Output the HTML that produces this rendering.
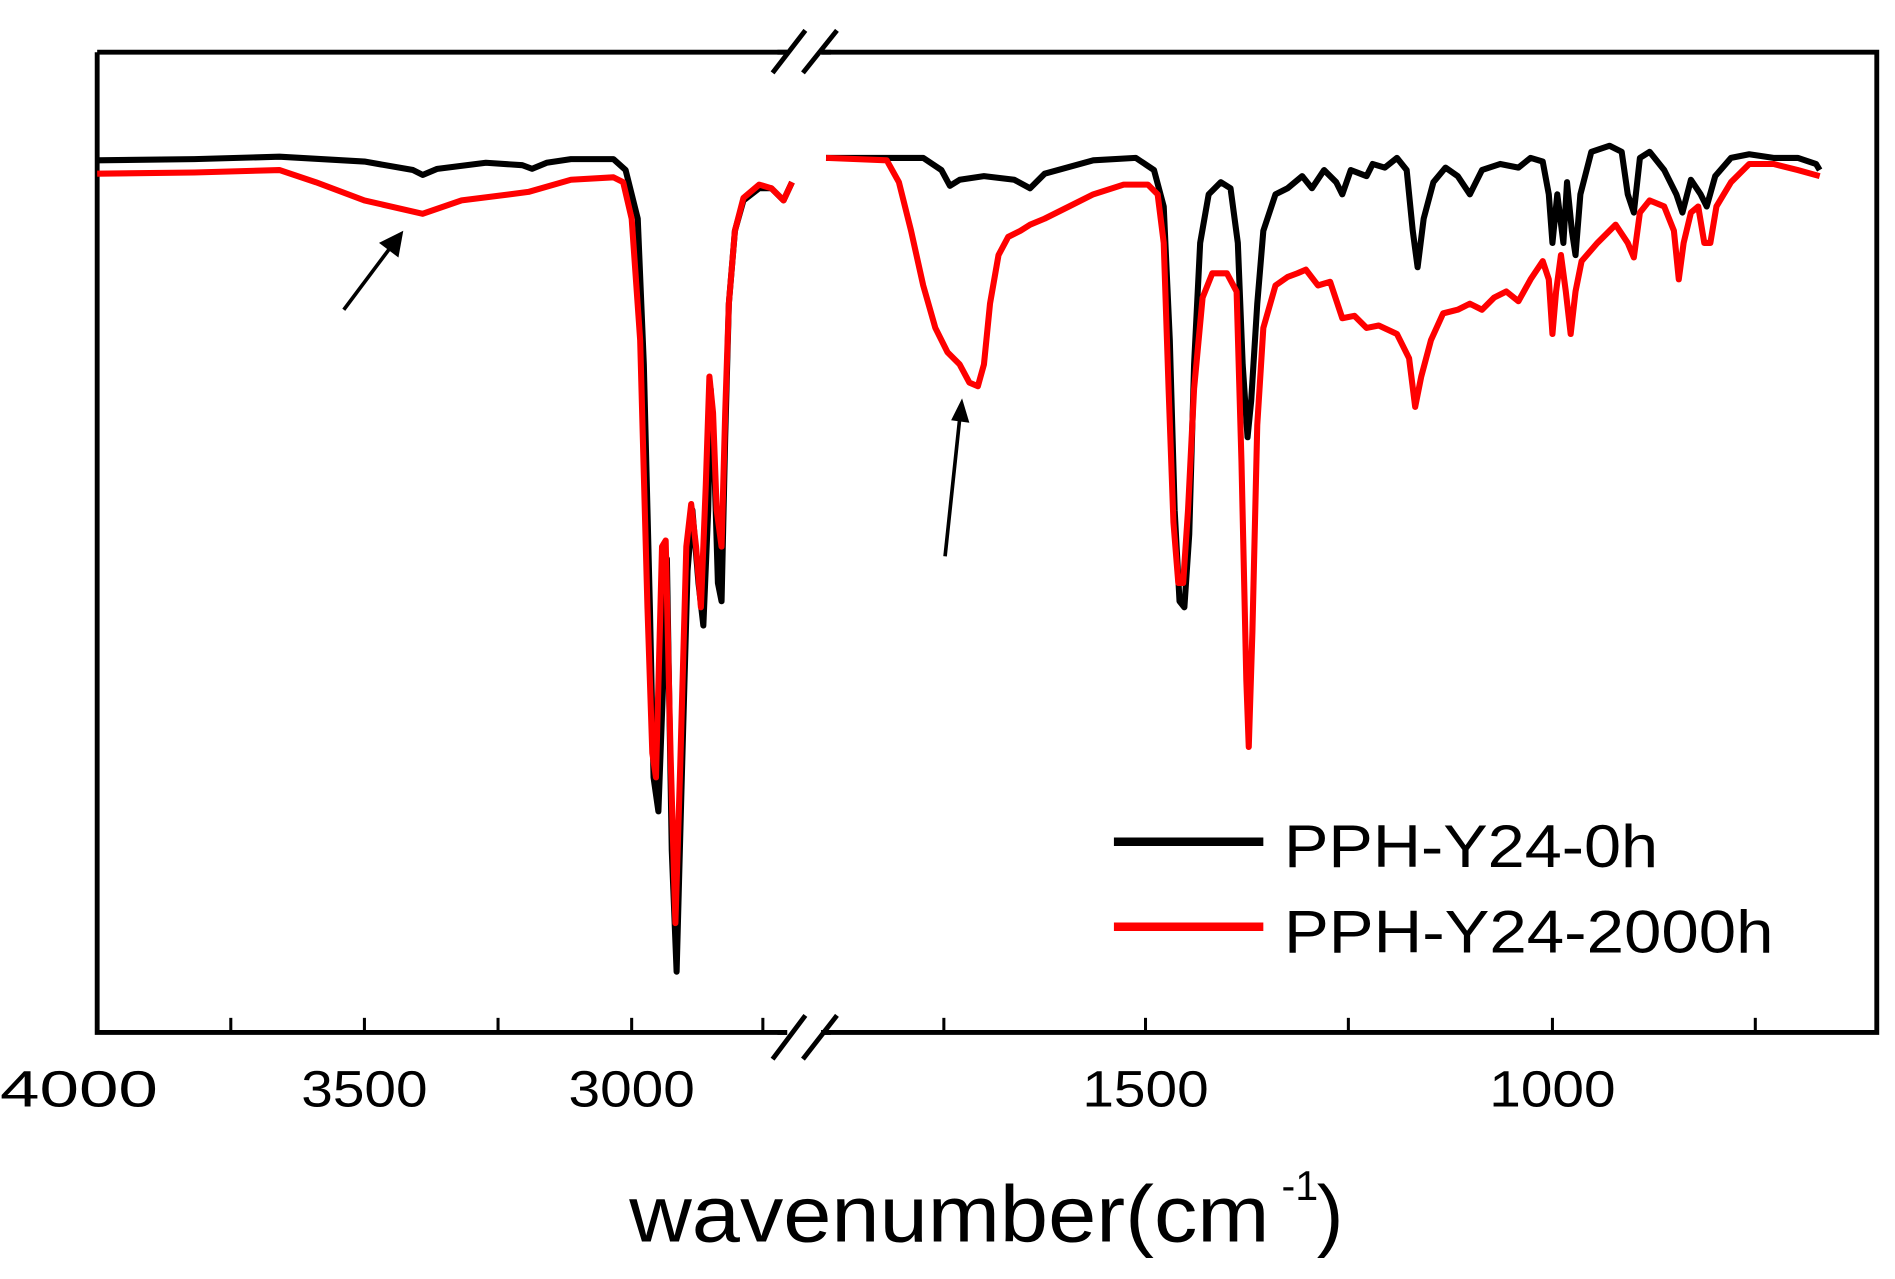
<!DOCTYPE html>
<html><head><meta charset="utf-8"><style>html,body{margin:0;padding:0;background:#fff}svg{display:block}</style></head>
<body>
<svg width="1895" height="1279" viewBox="0 0 1560 1053" preserveAspectRatio="none" xmlns="http://www.w3.org/2000/svg">
<rect width="1560" height="1053" fill="#fff"/>
<g stroke="#000" stroke-width="4" fill="none">
<polyline points="80,43 1545,43 1545,850 80,850 80,43"/>
</g>
<g stroke="#000" stroke-width="2.5">
<line x1="190" y1="850" x2="190" y2="838"/><line x1="300" y1="850" x2="300" y2="838"/><line x1="410" y1="850" x2="410" y2="838"/><line x1="520" y1="850" x2="520" y2="838"/><line x1="628" y1="850" x2="628" y2="838"/>
<line x1="1110" y1="850" x2="1110" y2="838"/><line x1="1278" y1="850" x2="1278" y2="838"/><line x1="1445" y1="850" x2="1445" y2="838"/><line x1="943" y1="850" x2="943" y2="838"/><line x1="777" y1="850" x2="777" y2="838"/>
</g>
<g stroke="#fff" stroke-width="14">
<line x1="648" y1="43" x2="676" y2="43"/><line x1="648" y1="850" x2="676" y2="850"/>
</g>
<g stroke="#000" stroke-width="4">
<line x1="640" y1="43" x2="648" y2="43"/><line x1="676" y1="43" x2="684" y2="43"/>
<line x1="640" y1="850" x2="648" y2="850"/><line x1="676" y1="850" x2="684" y2="850"/>
<line x1="636" y1="60" x2="663" y2="25"/><line x1="661" y1="60" x2="689" y2="25"/>
<line x1="636" y1="872" x2="663" y2="836"/><line x1="661" y1="872" x2="689" y2="836"/>
</g>
<g fill="none" stroke-width="5" stroke-linejoin="round">
<polyline stroke="#000" points="80,132 160,131 230,129 300,133 340,140 348,144 360,139 400,134 430,136 438,139 450,134 470,131 505,131 515,140 525,180 530,300 535,500 538,640 542,668 546,560 549,460 553,700 557,800 561,650 566,470 570,420 575,480 579,515 583,420 585,320 588,380 591,480 594,495 597,360 600,250 605,190 612,165 625,155 635,155 645,165 652,150"/>
<polyline stroke="#f00" points="80,143 160,142 230,140 260,150 300,165 348,176 380,165 435,158 470,148 505,146 513,150 520,180 527,280 533,500 537,620 540,640 545,450 548,445 552,620 556,760 560,630 565,450 569,415 573,450 577,500 581,400 584,310 587,340 590,420 594,450 597,340 600,250 605,190 612,163 625,152 635,155 645,165 652,150"/>
<polyline stroke="#000" points="680,130 760,130 775,140 782,153 790,148 810,145 835,148 848,155 860,143 900,132 935,130 950,140 958,170 963,280 967,420 971,495 975,500 979,440 983,300 988,200 995,160 1005,150 1013,155 1019,200 1023,300 1027,360 1030,330 1035,250 1040,190 1050,160 1060,155 1072,145 1080,155 1090,140 1100,150 1105,160 1112,140 1125,145 1130,135 1140,138 1150,130 1158,140 1163,190 1167,220 1172,180 1180,150 1190,138 1200,145 1210,160 1220,140 1235,135 1250,138 1260,130 1270,133 1275,160 1278,200 1282,160 1287,200 1290,150 1294,190 1297,210 1301,160 1310,125 1325,120 1335,125 1340,160 1345,175 1350,130 1358,125 1370,140 1380,160 1385,175 1392,148 1400,160 1405,170 1412,145 1425,130 1440,127 1460,130 1480,130 1495,135 1498,140"/>
<polyline stroke="#f00" points="680,130 730,132 740,150 750,190 760,235 770,270 780,290 790,300 798,315 805,318 810,300 815,250 822,210 830,195 840,190 848,185 860,180 880,170 900,160 925,152 945,152 953,160 958,200 962,320 966,430 970,480 974,480 978,420 983,320 990,245 998,225 1010,225 1018,240 1022,380 1026,560 1028,615 1031,520 1035,350 1040,270 1050,235 1060,228 1068,225 1075,222 1085,235 1095,232 1105,262 1115,260 1125,270 1135,268 1150,275 1160,295 1165,335 1170,310 1178,280 1188,258 1200,255 1210,250 1220,255 1230,245 1240,240 1250,248 1260,230 1270,215 1275,230 1278,275 1281,240 1285,210 1289,240 1293,275 1297,240 1302,215 1315,200 1330,185 1340,200 1345,212 1350,175 1358,165 1370,170 1378,190 1382,230 1386,200 1392,175 1398,170 1403,200 1408,200 1413,170 1425,150 1440,135 1460,135 1480,140 1498,145"/>
</g>
<g stroke="#000" stroke-width="3"><line x1="283" y1="255" x2="322" y2="203"/><line x1="778" y1="458" x2="790" y2="345"/></g>
<polygon points="332,190 328,212 312,200" fill="#000"/>
<polygon points="792,328 798,348 783,346" fill="#000"/>
<line x1="917" y1="693" x2="1040" y2="693" stroke="#000" stroke-width="7"/>
<line x1="917" y1="763" x2="1040" y2="763" stroke="#f00" stroke-width="7"/>
<g font-family="Liberation Sans, sans-serif" fill="#000">
<text x="1057" y="714" font-size="50" textLength="308" lengthAdjust="spacingAndGlyphs">PPH-Y24-0h</text>
<text x="1057" y="784" font-size="50" textLength="403" lengthAdjust="spacingAndGlyphs">PPH-Y24-2000h</text>
<g font-size="42">
<text x="0" y="911" textLength="130" lengthAdjust="spacingAndGlyphs">4000</text>
<text x="248" y="911" textLength="104" lengthAdjust="spacingAndGlyphs">3500</text>
<text x="468" y="911" textLength="104" lengthAdjust="spacingAndGlyphs">3000</text>
<text x="891" y="911" textLength="104" lengthAdjust="spacingAndGlyphs">1500</text>
<text x="1226" y="911" textLength="104" lengthAdjust="spacingAndGlyphs">1000</text>
</g>
<text x="518" y="1022" font-size="66" textLength="527" lengthAdjust="spacingAndGlyphs">wavenumber(cm</text>
<text x="1055" y="988" font-size="34">-1</text>
<text x="1084" y="1022" font-size="66">)</text>
</g>
</svg>
</body></html>
